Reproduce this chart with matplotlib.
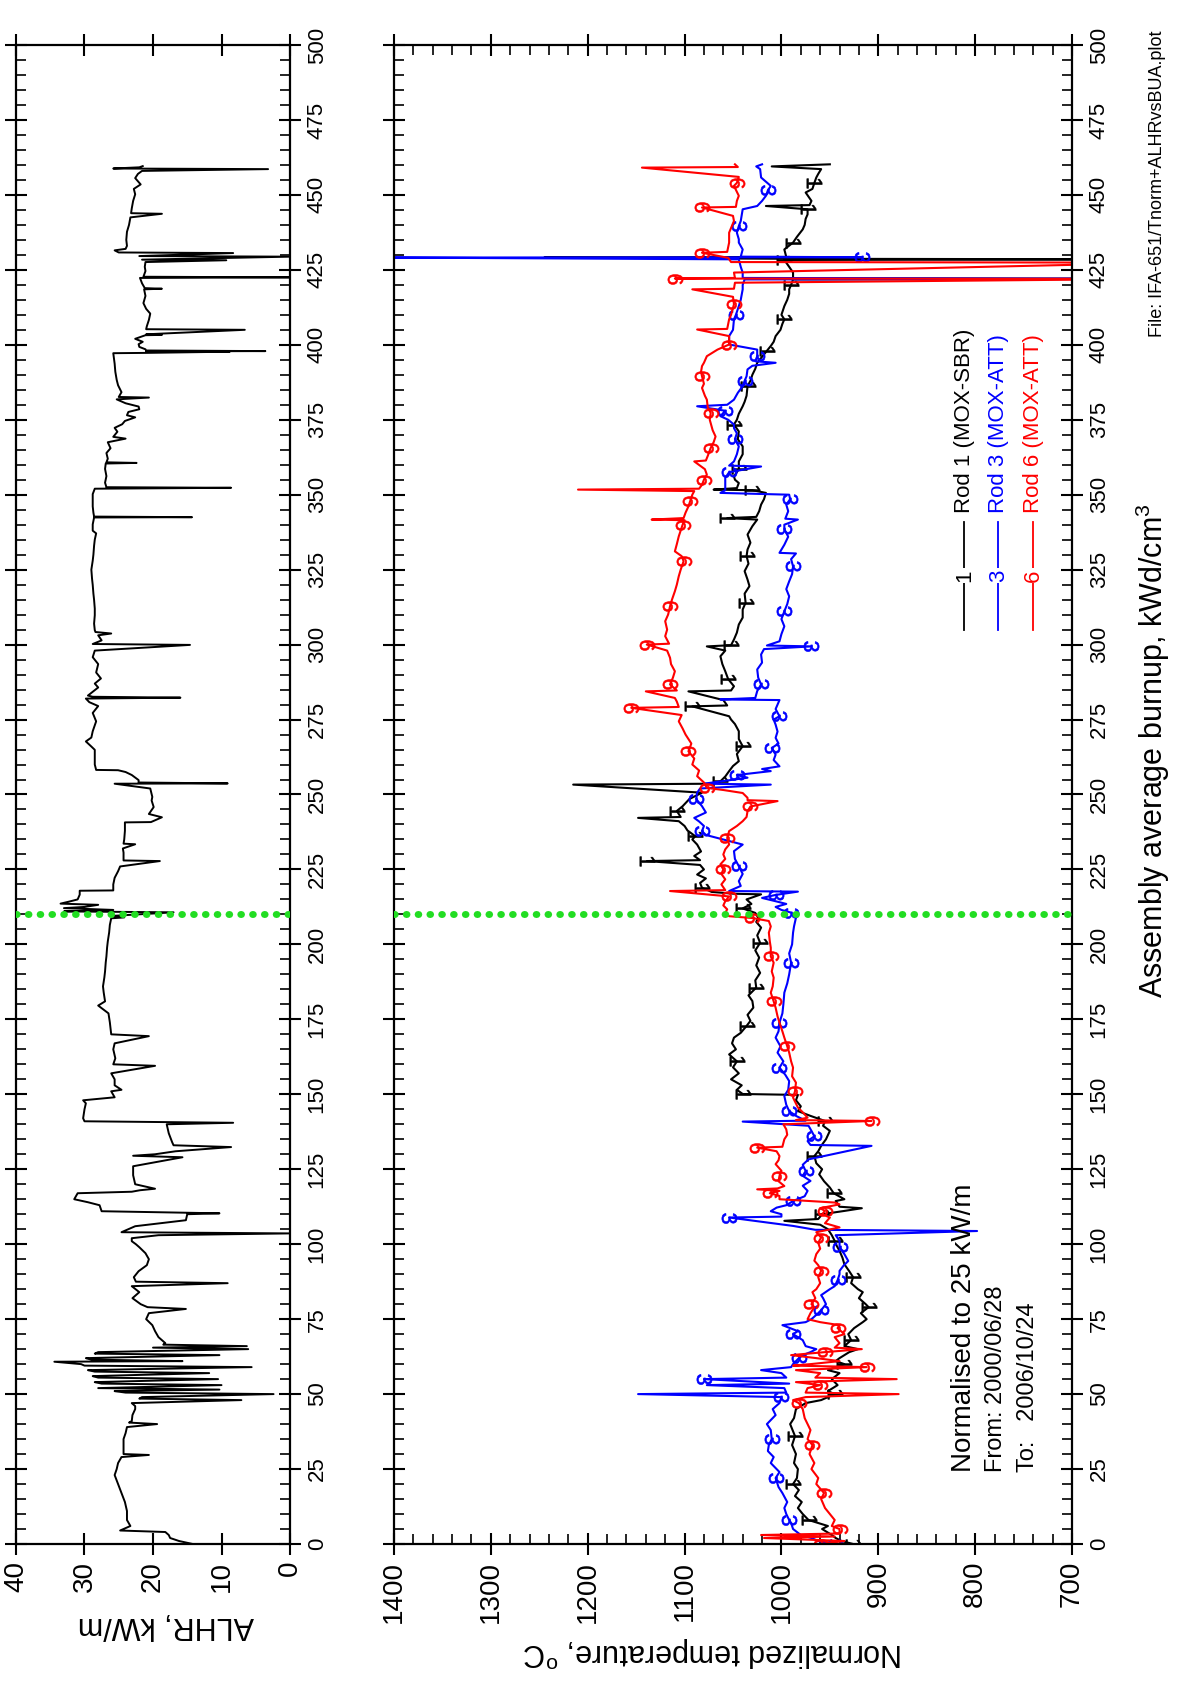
import numpy as np
import matplotlib
matplotlib.use("Agg")
import matplotlib.pyplot as plt
from matplotlib.transforms import Affine2D
from matplotlib.textpath import TextPath
from matplotlib.font_manager import FontProperties

plt.rcParams["font.family"] = ["Liberation Sans", "DejaVu Sans"]
plt.rcParams["mathtext.fontset"] = "custom"
plt.rcParams["mathtext.rm"] = "Liberation Sans"
plt.rcParams["mathtext.it"] = "Liberation Sans:italic"

# ALHR (kW/m) vs assembly burnup, pairs (burnup, value)
alhr_pts = [
    (0, 14.2), (1, 16.2), (2, 17.5), (3, 17.7), (4, 18.2), (4.5, 24.8), (6, 23.3), (8, 23.8), (11, 23.8),
    (14, 24.1), (17, 24.6), (20, 25.1), (23, 25.6), (25, 25.3), (27, 25.1), (29, 24.6), (29.7, 20.6),
    (30, 24.3), (32, 24.3), (35, 24.3), (37, 24.0), (39, 23.8), (40, 19.4), (40.5, 23.5), (41, 23.1),
    (43, 23.0), (45, 22.6), (46, 22.6), (47, 23.1), (48, 7.1), (48.5, 22.0), (49, 21.6), (50, 2.4),
    (50.5, 24.0), (51, 25.6), (51.5, 10.3), (52, 28.0), (53, 10.0), (53.5, 27.5), (54, 28.5), (55, 10.5),
    (55.5, 28.0), (56, 28.8), (57, 11.8), (57.5, 28.5), (58, 29.5), (59, 5.6), (59.5, 30.0), (60, 30.5),
    (60.8, 34.4), (61, 15.7), (61.5, 29.0), (62, 29.8), (63, 10.3), (63.5, 28.5), (64, 28.0), (65, 6.1),
    (65.5, 20.0), (66, 6.3), (66.5, 18.5), (67, 18.2), (69, 19.2), (71, 19.7), (73, 20.1), (75, 21.0),
    (77, 20.6), (78.4, 15.2), (79, 20.8), (80, 21.8), (82, 23.0), (84, 22.0), (86, 23.1), (87, 9.1),
    (87.5, 22.5), (89, 22.8), (91, 22.1), (93, 20.9), (95, 20.6), (97, 21.1), (99, 22.0), (100, 22.5),
    (101, 23.1), (102, 23.1), (103, 19.2), (103.6, 0.0), (104, 24.6), (106, 22.6), (108, 15.2), (110, 15.0),
    (110.3, 10.3), (111, 27.5), (113, 27.8), (114, 29.5), (115, 31.5), (117, 31.0), (117.5, 23.1),
    (118, 21.9), (118.5, 19.7), (120, 22.6), (123, 22.9), (126, 22.9), (129, 15.7), (129.5, 22.9),
    (130, 19.7), (131, 16.7), (132.4, 8.6), (133, 17.0), (134, 17.2), (137, 17.7), (140, 18.0), (140.5, 8.3),
    (141, 30.0), (142, 30.2), (145, 30.0), (147, 29.8), (148, 30.2), (149, 25.6), (151, 26.1), (151.5, 24.6),
    (153, 25.6), (155, 25.6), (157, 26.1), (159.5, 19.7), (160, 25.8), (162, 25.5), (165, 25.8), (167, 25.6),
    (169.4, 20.6), (170, 26.1), (172, 26.2), (174, 26.3), (177, 26.5), (179.6, 28.0), (181, 27.0),
    (184, 27.2), (186, 27.3), (189, 27.1), (191, 27.0), (194, 26.9), (196, 26.8), (199, 26.7), (201, 26.6),
    (204, 26.4), (206.5, 26.3), (208.7, 26.1), (209, 24.2), (209.5, 26.0), (210.7, 17.0), (211, 33.0),
    (211.5, 25.8), (212.1, 33.0), (212.5, 30.0), (213.2, 28.0), (213.6, 33.5), (214.3, 32.2), (215, 31.0),
    (216.6, 30.7), (217.9, 30.7), (218, 25.8), (220, 25.8), (222.2, 25.6), (224.4, 25.1), (226, 24.8),
    (227.8, 19.0), (228, 24.3), (230.6, 24.3), (232, 24.4), (233.4, 22.6), (233.6, 24.3), (235, 24.2),
    (237.9, 24.1), (240.7, 24.1), (240.8, 20.3), (242.4, 18.7), (243.5, 20.6), (245.8, 19.9), (248, 20.2),
    (249.2, 20.1), (252, 20.4), (253.6, 25.6), (253.7, 9.1), (254, 22.1), (254.8, 22.1), (256.5, 23.1),
    (257.5, 24.0), (258.1, 25.1), (258.2, 28.3), (260, 28.5), (261.5, 28.5), (264.9, 28.5), (266, 29.0),
    (267.7, 29.8), (269, 29.0), (271.1, 28.8), (274.4, 28.3), (277.2, 28.8), (279.5, 28.0), (280.8, 29.3),
    (282, 29.8), (282.3, 16.0), (282.6, 28.8), (283, 29.5), (285.7, 28.0), (287, 28.5), (288.7, 27.6),
    (290.7, 28.3), (293.5, 28.0), (295.8, 28.8), (298, 28.5), (299.9, 14.6), (300.2, 28.8), (301.4, 27.5),
    (303.1, 28.0), (303.7, 26.1), (304.2, 28.4), (304.8, 28.5), (307, 28.6), (309.8, 28.5), (312, 28.5),
    (314.9, 28.6), (317, 28.7), (319.9, 28.8), (322, 28.9), (325, 29.0), (328, 28.8), (330, 28.7),
    (333, 28.6), (335, 28.5), (337.1, 28.3), (338, 28.8), (340.1, 28.8), (342.4, 28.6), (342.5, 14.3),
    (342.7, 28.6), (344, 28.7), (346.1, 28.8), (348, 28.8), (350.2, 28.8), (352, 28.5), (352.3, 8.6),
    (352.5, 26.8), (354, 27.0), (356.2, 26.8), (358.6, 27.0), (360.4, 26.9), (360.6, 22.4), (360.8, 26.8),
    (362, 26.6), (363.9, 26.8), (365.5, 26.2), (367.5, 26.6), (368.7, 24.0), (369.3, 25.8), (371, 25.2),
    (372.3, 25.6), (373.5, 24.5), (374.6, 24.1), (375.8, 22.6), (376.5, 23.8), (377.6, 23.6), (378.5, 22.0),
    (379.4, 22.1), (380.5, 24.0), (381.8, 25.3), (382.4, 20.6), (382.6, 25.0), (384.2, 24.6), (386.5, 25.1),
    (388.3, 25.3), (391, 25.5), (393.7, 25.6), (395.5, 25.7), (397.2, 25.8), (397.3, 21.1), (397.7, 8.8),
    (397.8, 21.0), (397.9, 3.6), (398.1, 21.0), (398.5, 21.1), (399.3, 22.0), (400.2, 22.1), (401, 21.5),
    (402, 22.6), (403.2, 21.1), (403.3, 18.7), (403.5, 21.0), (405.0, 6.6), (405.2, 21.0), (406.2, 20.9),
    (408.3, 20.6), (410.4, 20.4), (412, 21.0), (413.9, 21.4), (416.3, 21.1), (418.5, 21.3), (418.7, 18.7),
    (418.9, 21.2), (420.5, 21.6), (422.3, 21.9), (422.5, 0.0), (422.7, 21.4), (424.6, 21.1), (426, 21.2),
    (427.6, 21.1), (428.2, 9.3), (428.4, 21.6), (429.4, 0.0), (429.6, 22.0), (430.6, 8.3), (430.8, 25.0),
    (431.5, 25.6), (432, 24.0), (433.0, 23.8), (435, 23.9), (437.7, 23.8), (440, 23.5), (442.5, 23.3),
    (443.7, 18.7), (443.9, 23.2), (445.5, 23.1), (448, 22.9), (450.2, 22.6), (452, 22.8), (453.5, 21.8),
    (455.6, 22.6), (457, 22.2), (458, 21.6), (458.6, 3.2), (458.8, 25.8), (459.2, 22.0), (459.6, 21.5),
]

# Normalized temperature (C) vs burnup, Rod 1 (MOX-SBR)
rod1_pts = [
    (0, 926), (1, 938), (2, 944), (3, 948), (5, 958), (6, 952), (8, 972), (10, 978), (12, 983), (14, 979),
    (16, 986), (18, 982), (20, 988), (22, 984), (25, 983), (27, 987), (30, 985), (33, 989), (36, 986),
    (40, 991), (42, 987), (45, 985), (47, 975), (48, 959), (50, 945), (51, 952), (53, 942), (55, 948),
    (57, 940), (58, 952), (60, 935), (61, 944), (62, 940), (64, 930), (65, 921), (66, 935), (68, 928),
    (70, 931), (72, 925), (74, 916), (75, 912), (77, 918), (79, 910), (80, 913), (82, 920), (84, 916),
    (85, 921), (87, 928), (89, 926),
    (91, 930), (93.3, 935), (95.5, 937), (97.8, 940), (99.5, 943), (101.1, 945), (103, 948), (105, 952),
    (106.5, 960), (107.8, 997), (108.4, 962), (110, 958), (111.1, 935), (112, 917), (112.5, 940),
    (114.4, 944), (115, 935), (117, 946), (118.9, 950), (121, 956), (123.3, 961), (125, 958), (127, 964),
    (129.4, 966), (131, 962), (132.8, 959), (135, 954), (137.8, 950), (139.5, 957), (141.1, 955),
    (142.8, 970), (144.4, 983), (146, 980), (148, 985), (149.8, 983), (150.1, 1040), (151.5, 1046),
    (153, 1041), (155, 1052), (157, 1044), (159, 1050), (161, 1046), (163.3, 1054), (165, 1047),
    (167, 1051), (168.9, 1049), (170.5, 1042), (172.8, 1036), (174.5, 1032), (176.5, 1035), (178.9, 1029),
    (181.1, 1030), (183, 1034), (185.6, 1026), (188, 1027), (190.5, 1022), (193, 1026), (195.6, 1023),
    (198, 1027), (200.5, 1022), (203, 1025), (205.6, 1021), (207.5, 1026), (208.9, 1024), (210.5, 1027),
    (212, 1040), (213.5, 1031), (215, 1036), (216.7, 1021), (216.9, 1049), (217.5, 1072), (218.9, 1082),
    (220.5, 1084), (222, 1078), (223.3, 1087), (225, 1080), (226.5, 1084), (227.8, 1139), (228.1, 1084),
    (229.5, 1090), (231, 1083),
    (233.3, 1087), (235, 1092), (236.1, 1089), (238, 1097), (239.5, 1100), (241.1, 1106), (242.2, 1148),
    (242.5, 1104), (244.5, 1108), (246.1, 1102), (248.5, 1095), (250.6, 1082), (253.3, 1215), (253.6, 1070),
    (254.4, 1063), (256, 1058), (257.8, 1054), (259.5, 1050), (261.1, 1044), (263.5, 1046), (266.1, 1040),
    (268.5, 1044), (271.1, 1044), (273.5, 1048), (275, 1052), (276.1, 1054), (279.4, 1092), (279.7, 1056),
    (281.5, 1060), (284.4, 1096), (284.7, 1052), (286.1, 1049), (288.5, 1055), (291.1, 1058), (293.5, 1061),
    (296.1, 1063), (298, 1058), (299.4, 1077), (299.8, 1052), (301.7, 1049), (304, 1046), (306.7, 1044),
    (309, 1040), (311.7, 1040), (314, 1037), (317, 1038), (319.5, 1033), (321.7, 1035), (324.5, 1038),
    (327, 1034), (329.5, 1036), (331.7, 1035), (334, 1032), (336.7, 1035), (339.5, 1030), (341.7, 1025),
    (342.2, 1056), (342.6, 1026), (344.5, 1023), (346.7, 1021), (348.5, 1018), (350.6, 1016), (351.5, 1030),
    (351.7, 1070), (352.2, 1046), (353.9, 1044), (355, 1048), (356.1, 1049), (358.5, 1044), (361.1, 1044),
    (363.5, 1040), (366.1, 1040), (368.5, 1045), (371.1, 1044),
    (373.4, 1049), (375, 1046), (377, 1044), (379.5, 1040), (381, 1038), (383, 1036), (386.2, 1035),
    (388, 1032), (390, 1030), (392, 1027), (394, 1025), (396, 1020), (398, 1015), (399.6, 1011), (401, 1008),
    (402.9, 1006), (405, 1001), (407, 999), (408.5, 997), (410, 1000), (412.9, 997), (415, 994), (417, 992),
    (418.5, 992), (420, 990), (421.8, 988), (422.0, 600), (422.2, 988), (424.1, 988), (426, 992),
    (428.3, 997), (428.5, 600), (428.7, 996), (429.1, 1245), (429.3, 995), (431.8, 997), (434.1, 988),
    (436, 984), (438.5, 978), (440, 976), (442, 975), (443.5, 973), (445.2, 973), (446.3, 1016), (446.6, 971),
    (448, 969), (450.8, 975), (452, 968), (454, 966), (455.8, 964), (457, 962), (458.6, 959), (459.5, 1010),
    (460.2, 950),
]

# Rod 3 (MOX-ATT)
rod3_pts = [
    (0, 945), (1, 962), (2, 969), (3, 980), (5, 988), (7, 990), (8, 992), (10, 995), (12, 997), (14, 994),
    (17, 999), (19, 1003), (22, 1006), (24, 1002), (27, 1011), (29, 1008), (31, 1014), (33, 1013),
    (35, 1010), (38, 1011), (40, 1015), (43, 1006), (45, 1009), (47, 1002), (49, 1000), (50, 1148),
    (50.5, 995), (52, 997), (53, 1077), (53.5, 992), (55, 1080), (55.5, 995), (57, 1000), (58, 1021),
    (59, 990), (60, 988), (62, 982), (63, 978), (64, 970), (65, 964), (66, 975), (68, 978), (70, 988),
    (71, 983), (73, 999), (74, 975), (75, 969), (77, 962), (78, 959), (80, 954), (82, 957), (83, 959),
    (85, 950), (86, 945), (88, 942), (90, 940),
    (91.1, 940), (92.8, 936), (94.4, 931), (96.7, 935), (98.9, 940), (101.1, 940), (103, 944), (104.4, 798),
    (104.8, 965), (106.1, 988), (108.9, 1054), (109.2, 1000), (110, 1000), (111, 1011), (112.2, 1005),
    (113, 995), (114.4, 988), (116, 976), (117.8, 973), (119.5, 978), (121.1, 970), (122.8, 978),
    (124.4, 975), (126.5, 978), (128.3, 972), (132.8, 907), (133.1, 970), (134.4, 973), (136, 966),
    (137.8, 969), (139.5, 972), (140.9, 1040), (141.2, 975), (142.8, 985), (144.4, 992), (146.5, 995),
    (149.4, 997), (151.5, 993), (154.4, 992), (156.5, 996), (158.9, 1002), (161, 998), (163.9, 1004),
    (166, 1001), (168.9, 1006), (171, 1003), (173.9, 1002), (177, 999), (180, 998), (183.9, 997),
    (187, 994), (190, 992), (193.9, 990), (197, 992), (200, 989), (203.9, 988), (206, 987), (208.9, 985),
    (210.6, 990), (211.5, 1000), (212.5, 1006), (213.5, 995), (214.4, 1006), (215.5, 1020), (216.5, 1006),
    (217.6, 983), (217.8, 1054), (219.5, 1042), (221.1, 1044), (223.5, 1040), (226.1, 1044), (228.5, 1048),
    (231.1, 1049),
    (233.3, 1040), (235, 1060), (236.5, 1078), (237.8, 1082), (239.5, 1080), (241, 1085), (242.2, 1090),
    (244, 1078), (246.1, 1082), (248.5, 1088), (250.6, 1087), (252, 1084), (253.3, 1011), (253.6, 1080),
    (255.6, 1035), (256.5, 1046), (257.8, 1011), (258.5, 1020), (259.4, 1002), (261.5, 1008), (263.3, 1006),
    (265.5, 1010), (267, 1003), (268.9, 1006), (271, 1004), (273.3, 1006), (275, 1008), (276.1, 1002),
    (278.5, 1006), (281.5, 1002), (281.7, 1063), (282.2, 1027), (284.5, 1025), (286.7, 1021), (289, 1024),
    (291.7, 1025), (294, 1020), (296.7, 1021), (298.5, 1018), (299.4, 969), (299.7, 1015), (301.1, 1002),
    (303.5, 1000), (306.1, 997), (308.5, 1000), (311.1, 997), (313.5, 994), (316.1, 992), (318.5, 995),
    (321.1, 992), (323.5, 989), (326.1, 988), (328.5, 990), (330.4, 985), (330.6, 1002), (333.3, 997),
    (336, 993), (338.5, 997), (340, 997), (341.7, 983), (342, 996), (344.5, 993), (346.7, 995),
    (348.5, 991), (350, 992), (350.6, 1063), (351.5, 1058), (353.3, 1058), (355.6, 1058), (357.5, 1054),
    (359.4, 1021), (359.7, 1054), (361.1, 1049), (363.5, 1046), (366.1, 1044), (368.5, 1048), (370.5, 1046),
    (372.2, 1049),
    (373.4, 1049), (375, 1055), (376.2, 1063), (378, 1058), (379.5, 1087), (380, 1056), (381.7, 1049),
    (384, 1045), (386.2, 1040), (388, 1038), (389.5, 1036), (391.8, 1035), (393, 1030), (394, 1006),
    (394.5, 1027), (396.2, 1025), (398.4, 1025), (400.1, 1054), (402.9, 1054), (405, 1050), (408.5, 1049),
    (410, 1047), (412.9, 1044), (415, 1042), (418.5, 1040), (420, 1040), (421.8, 1038), (422.0, 600),
    (422.3, 1040), (424.1, 1040), (426, 1042), (428.5, 1044), (429.1, 1405), (429.2, 917), (429.4, 1042),
    (431.8, 1040), (434.1, 1044), (435.2, 1044), (437.4, 1046), (439.6, 1044), (441.3, 1042), (445.2, 1040),
    (446.3, 1025), (448, 1020), (449.7, 1016), (451.5, 1014), (453, 1011), (455.8, 1021), (458.6, 1022),
    (459.5, 1026), (460.2, 1020),
]

# Rod 6 (MOX-ATT)
rod6_pts = [
    (0, 959), (1, 935), (2, 1018), (2.5, 945), (3, 1021), (3.5, 940), (5, 940), (6, 948), (8, 945),
    (10, 950), (12, 955), (15, 959), (17, 956), (20, 964), (22, 962), (25, 969), (27, 966), (30, 971),
    (33, 968), (35, 973), (38, 970), (40, 973), (42, 976), (45, 978), (47, 982), (48, 988), (49, 975),
    (50, 879), (50.5, 975), (52, 973), (53, 960), (54, 985), (55, 881), (55.5, 965), (57, 960), (58, 985),
    (59, 912), (59.5, 988), (60, 970), (61, 940), (62, 964), (63, 990), (64, 955), (65, 917), (65.5, 945),
    (67, 940), (69, 945), (70, 935), (72, 942), (73, 940), (74, 960), (75, 973), (77, 970), (79, 966),
    (80, 969), (82, 965), (84, 968), (85, 964), (87, 960), (89, 962),
    (91.1, 959), (93, 962), (94.5, 966), (96.7, 964), (98.5, 960), (100.5, 962), (102.2, 959), (104, 964),
    (105.6, 940), (107, 955), (108.9, 950), (110, 958), (111.1, 955), (112, 960), (113.3, 940), (113.9, 945),
    (115, 1002), (116.1, 1002), (117, 1012), (117.8, 1002), (118.3, 1025), (118.6, 1004), (119.4, 997),
    (121, 1003), (122.8, 1002), (124.5, 1000), (126.7, 1006), (128, 1003), (129.4, 1002), (131, 1005),
    (132.2, 1025), (132.5, 999), (135, 997), (136.5, 994), (138.3, 995), (140, 998), (141.1, 907),
    (141.4, 985), (142.2, 973), (144, 978), (145.6, 983), (148.9, 988), (151, 986), (153.9, 985), (156, 989),
    (158.9, 988), (161, 990), (163.9, 992), (166, 994), (168.9, 997), (171, 999), (173.9, 1002), (176, 1004),
    (178.9, 1006), (181, 1008), (183.9, 1011), (186, 1009), (188.9, 1008), (191, 1010), (193.9, 1008),
    (196, 1011), (198.9, 1011), (201, 1012), (203.9, 1013), (206, 1011), (207.8, 1013), (208.8, 1030),
    (209.4, 1054), (210.5, 1058), (211.7, 1056), (213, 1060), (214.4, 1058), (216, 1054), (217.8, 1115),
    (218.1, 1058), (220, 1062), (221.7, 1058), (223.5, 1062), (225, 1060), (226.7, 1063), (228.5, 1058),
    (230, 1060), (231.7, 1058),
    (233.3, 1054), (235.5, 1056), (237.8, 1054), (239.5, 1046), (241.1, 1040), (242.5, 1036), (244.4, 1035),
    (246, 1032), (247.8, 1004), (248.1, 1035), (248.9, 1035), (250.5, 1040), (251.5, 1060), (252.2, 1077),
    (254, 1080), (256.1, 1087), (258, 1085), (260, 1092), (262, 1090), (264.4, 1096), (267, 1093),
    (270, 1099), (272, 1102), (274.4, 1106), (276.5, 1103), (278.9, 1155), (279.2, 1106), (281, 1108),
    (282.2, 1110), (284.4, 1140), (284.7, 1108), (286.7, 1115), (289, 1112), (291.1, 1110), (293.5, 1114),
    (295.6, 1115), (298, 1118), (300, 1139), (300.3, 1116), (302.8, 1120), (305, 1118), (307.8, 1120),
    (310, 1117), (312.8, 1115), (315, 1113), (317.8, 1110), (320, 1108), (322.8, 1106), (325, 1104),
    (327.8, 1101), (329.5, 1103), (331.1, 1110), (333.5, 1108), (336.1, 1106), (338, 1104), (340, 1102),
    (341.5, 1100), (341.7, 1134), (342.2, 1101), (344, 1099), (346.1, 1096), (348, 1094), (350, 1092),
    (351.2, 1090), (351.7, 1210), (352, 1085), (353.3, 1082), (355, 1080), (356.7, 1077), (358.5, 1079),
    (361.1, 1090), (361.4, 1078), (363, 1076), (365.6, 1073), (367.5, 1070), (369.4, 1068), (371.5, 1071),
    (373.9, 1073),
    (375, 1074), (377.3, 1073), (379, 1076), (381.7, 1077), (383, 1079), (385.6, 1082), (387, 1080),
    (389.5, 1082), (391, 1083), (392.9, 1082), (394, 1080), (396.2, 1077), (398.4, 1066), (400.1, 1054),
    (402.9, 1054), (405.1, 1087), (405.3, 1056), (408.5, 1054), (410, 1052), (413.5, 1049), (416, 1050),
    (418.5, 1092), (418.7, 1049), (420.7, 1048), (422.0, 600), (422.1, 1110), (422.3, 1048), (424.1, 1049),
    (427.4, 600), (427.6, 1052), (429, 1055), (430.7, 1082), (431, 1056), (434.1, 1054), (437.4, 1054),
    (441.3, 1049), (443, 1050), (445.8, 1082), (446, 1047), (448, 1046), (449.7, 1044), (451, 1046),
    (453, 1049), (454, 1046), (456, 1044), (459.1, 1144), (459.3, 1045), (460.2, 1048),
]

rods = [("1", "Rod 1 (MOX-SBR)", "black", rod1_pts),
        ("3", "Rod 3 (MOX-ATT)", "#0000ff", rod3_pts),
        ("6", "Rod 6 (MOX-ATT)", "#ff0000", rod6_pts)]

reactor_change_bu = 210
burnup_ticks = np.arange(0, 501, 25)
alhr_ticks = [0, 10, 20, 30, 40]
temp_ticks = np.arange(700, 1401, 100)

W, H = 1186, 1682
fig = plt.figure(figsize=(W / 100, H / 100), dpi=100)
top, bot = 45, 1544
ax1 = fig.add_axes([16 / W, 1 - bot / H, (290 - 16) / W, (bot - top) / H])
ax2 = fig.add_axes([394 / W, 1 - bot / H, (1072 - 394) / W, (bot - top) / H])


def digit_marker(d):
    # digit glyph as a marker path, turned a quarter clockwise like the source plot
    tp = TextPath((0, 0), d, prop=FontProperties(family="Liberation Sans"))
    ext = tp.get_extents()
    cx, cy = (ext.x0 + ext.x1) / 2, (ext.y0 + ext.y1) / 2
    return Affine2D().translate(-cx, -cy).rotate_deg(-90).transform_path(tp)


a = np.array(alhr_pts)
ax1.plot(a[:, 1], a[:, 0], color="black", lw=1.4)
ax1.set_xlim(40, 0)
ax1.set_xticks(alhr_ticks)

for digit, name, col, pts in rods:
    p = np.array(pts)
    ax2.plot(p[:, 1], p[:, 0], color=col, lw=1.5, marker=digit_marker(digit),
             markevery=6, markersize=11, markeredgewidth=0.4,
             markerfacecolor=col, markeredgecolor=col)
ax2.set_xlim(1400, 700)
ax2.set_xticks(temp_ticks)
ax2.set_xticks(np.arange(700, 1401, 20), minor=True)

for ax in (ax1, ax2):
    ax.set_ylim(0, 500)
    ax.set_yticks(burnup_ticks)
    ax.set_yticks(np.arange(0, 501, 5), minor=True)
    for s in ax.spines.values():
        s.set_linewidth(1.6)
    ax.tick_params(which="major", direction="inout", length=16, width=1.5,
                   top=True, right=True, left=True, bottom=True,
                   labelleft=False, labelright=True, labelbottom=True, labeltop=False)
    ax.tick_params(which="minor", direction="in", length=7, width=1.2,
                   top=True, right=True, left=True, bottom=True)
    ax.tick_params(axis="x", labelsize=20, pad=4)
    ax.tick_params(axis="y", labelsize=16, pad=4)
    plt.setp(ax.get_xticklabels(), rotation=90, ha="center", va="top")
    plt.setp(ax.get_yticklabels(), rotation=90, ha="left", va="center")
    ax.axhline(reactor_change_bu, color="#22dd22", lw=5, ls=(0, (0.1, 1.6)),
               dash_capstyle="round", zorder=6)

# legend drawn as rotated entries
legend_x = [811, 776, 740]
for (digit, name, col, _), tx in zip(rods, legend_x):
    ax2.plot([tx, tx], [305, 341], color=col, lw=1.3)
    ax2.text(tx, 323, digit, rotation=90, ha="center", va="center", color=col, fontsize=16,
             bbox=dict(fc="white", ec="none", pad=1))
    ax2.text(tx, 344, name, rotation=90, ha="center", va="bottom", color=col, fontsize=16)

ax2.text(812, 24, "Normalised to 25 kW/m", rotation=90, ha="center", va="bottom", fontsize=20)
ax2.text(778, 24, "From: 2000/06/28", rotation=90, ha="center", va="bottom", fontsize=17)
ax2.text(745, 24, "To:   2006/10/24", rotation=90, ha="center", va="bottom", fontsize=17)

fig.text(166 / W, 1 - 1625 / H, "ALHR, kW/m", rotation=180, ha="center", va="center", fontsize=22)
fig.text(713 / W, 1 - 1651 / H, r"Normalized temperature, $^{\rm o}$C", rotation=180,
         ha="center", va="center", fontsize=22)
fig.text(1153 / W, 1 - 751 / H, r"Assembly average burnup, kWd/cm$^{3}$", rotation=90,
         ha="center", va="center", fontsize=22)
fig.text(1158 / W, 1 - 184 / H, "File: IFA-651/Tnorm+ALHRvsBUA.plot", rotation=90,
         ha="center", va="center", fontsize=13)

fig.savefig("out.png", dpi=100)
